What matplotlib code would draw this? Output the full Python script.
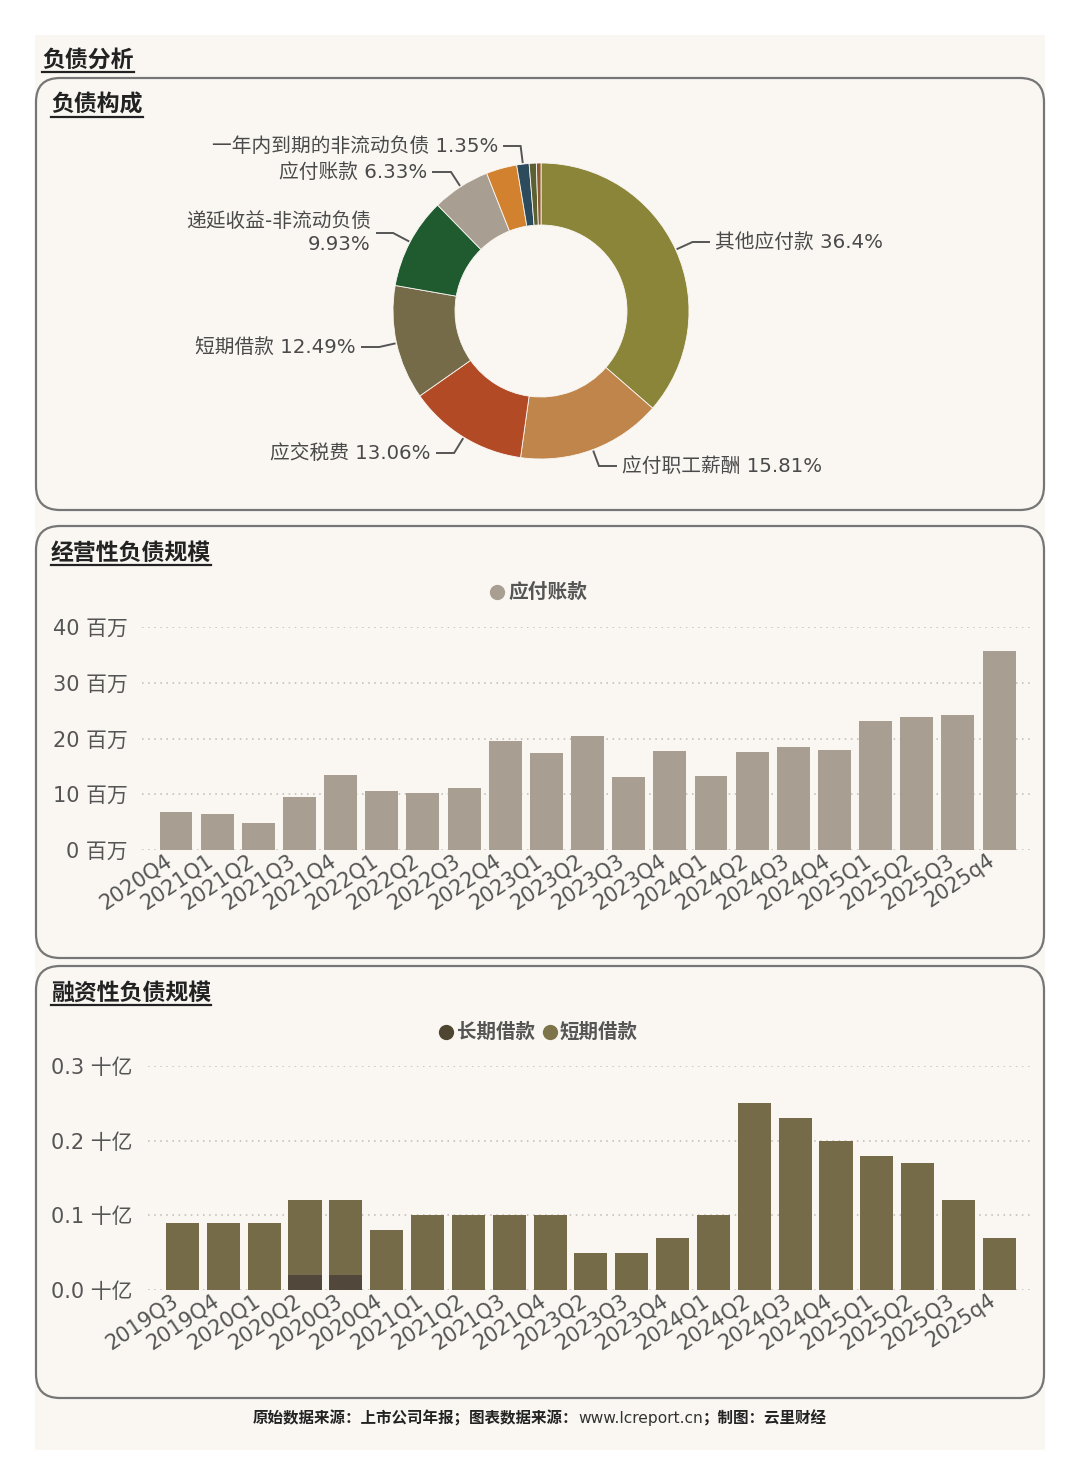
import numpy as np
import matplotlib
matplotlib.use("Agg")
import matplotlib.pyplot as plt
from matplotlib.patches import FancyBboxPatch, Rectangle
import matplotlib.transforms as mtransforms

plt.rcParams['font.family'] = ['DejaVu Sans', 'Noto Sans CJK SC']

# ---------------- data ----------------
pie_names = ['其他应付款', '应付职工薪酬', '应交税费', '短期借款', '递延收益-非流动负债',
             '应付账款', '其他流动负债', '一年内到期的非流动负债', '租赁负债', '长期应付款']
pie_values = [36.4, 15.81, 13.06, 12.49, 9.93, 6.33, 3.35, 1.35, 0.78, 0.50]
pie_colors = ['#8a8538', '#c0854b', '#b24a25', '#756b48', '#1f5b2f',
              '#a89e91', '#d2822f', '#2c4b5c', '#5b6132', '#8b5a32']
pie_show_label = [True, True, True, True, True, True, False, True, False, False]

op_quarters = ['2020Q4', '2021Q1', '2021Q2', '2021Q3', '2021Q4', '2022Q1', '2022Q2',
               '2022Q3', '2022Q4', '2023Q1', '2023Q2', '2023Q3', '2023Q4', '2024Q1',
               '2024Q2', '2024Q3', '2024Q4', '2025Q1', '2025Q2', '2025Q3', '2025q4']
op_payables = [6.87, 6.45, 4.84, 9.43, 13.37, 10.5, 10.15, 11.04, 19.58, 17.37, 20.36,
               13.13, 17.73, 13.25, 17.49, 18.39, 17.85, 23.16, 23.82, 24.18, 35.7]  # 百万

fin_quarters = ['2019Q3', '2019Q4', '2020Q1', '2020Q2', '2020Q3', '2020Q4', '2021Q1',
                '2021Q2', '2021Q3', '2021Q4', '2023Q2', '2023Q3', '2023Q4', '2024Q1',
                '2024Q2', '2024Q3', '2024Q4', '2025Q1', '2025Q2', '2025Q3', '2025q4']
fin_long = [0, 0, 0, 0.02, 0.02, 0, 0, 0, 0, 0, 0, 0, 0, 0, 0, 0, 0, 0, 0, 0, 0]  # 十亿
fin_short = [0.09, 0.09, 0.09, 0.10, 0.10, 0.08, 0.10, 0.10, 0.10, 0.10, 0.05, 0.05,
             0.07, 0.10, 0.25, 0.23, 0.20, 0.18, 0.17, 0.12, 0.07]  # 十亿

# ---------------- layout ----------------
W, H = 1080, 1484
fig = plt.figure(figsize=(W / 100, H / 100), dpi=100, facecolor='white')
BG = '#faf7f3'
TXT = '#555555'

bg = fig.add_axes([0, 0, 1, 1])
bg.set_xlim(0, W)
bg.set_ylim(H, 0)
bg.axis('off')
bg.set_zorder(0)

bg.add_patch(Rectangle((35, 35), 1010, 1415, facecolor=BG, edgecolor='none'))
for (y0, y1) in [(78, 510), (526, 958), (966, 1398)]:
    bg.add_patch(FancyBboxPatch((36, y0), 1008, y1 - y0,
                                boxstyle='round,pad=0,rounding_size=24',
                                facecolor=BG, edgecolor='#767676', linewidth=1.6))


def px_axes(x0, y0, x1, y1):
    a = fig.add_axes([x0 / W, 1 - y1 / H, (x1 - x0) / W, (y1 - y0) / H])
    a.set_facecolor('none')
    a.set_zorder(2)
    return a


titles = []
for (x, y, s) in [(42, 60, '负债分析'), (51, 105, '负债构成'),
                  (51, 553, '经营性负债规模'), (51, 993, '融资性负债规模')]:
    t = bg.text(x, y, s, fontsize=16.5, fontweight='heavy', color='#222222',
                family=['Noto Sans CJK SC'], ha='left', va='center')
    titles.append((t, y))

# ---------------- pie ----------------
cx, cy, R, Rin = 541, 311, 148, 86
pax = px_axes(cx - 160, cy - 160, cx + 160, cy + 160)
pax.pie(pie_values, radius=R, startangle=90, counterclock=False, colors=pie_colors,
        wedgeprops=dict(width=R - Rin, edgecolor=BG, linewidth=0.6))
pax.set_xlim(-160, 160)
pax.set_ylim(-160, 160)
pax.axis('off')

# label anchor positions (layout, pie-centred pixel coords)
label_pos = {0: (174, 69, 'left'), 1: (81, -155, 'left'), 2: (-110, -142, 'right'),
             3: (-185, -36, 'right'), 4: (-170, 78, 'right'), 5: (-114, 139, 'right'),
             7: (-43, 165, 'right')}
vals = np.array(pie_values)
cum = np.cumsum(vals) - vals / 2
for i, show in enumerate(pie_show_label):
    if not show:
        continue
    ang = np.deg2rad(90 - cum[i] / vals.sum() * 360)
    d = np.array([np.cos(ang), np.sin(ang)])
    p0 = (R + 2) * d
    lx, ly, ha = label_pos[i]
    t = (ly - p0[1]) / d[1] if abs(d[1]) > 1e-3 else 14
    p1 = p0 + t * d
    p2x = lx - 6 if ha == 'left' else lx + 6
    pax.plot([p0[0], p1[0], p2x], [p0[1], p1[1], ly], color='#555555', lw=1.4,
             clip_on=False, solid_joinstyle='miter')
    name = pie_names[i]
    pct = f"{pie_values[i]:g}%"
    if i == 4:
        s = f"{name}\n{pct}"
    else:
        s = f"{name} {pct}"
    pax.text(lx, ly, s, ha=ha, va='center', fontsize=14.2, color='#4a4a4a',
             fontweight='medium', multialignment='right', linespacing=1.25,
             clip_on=False)


# ---------------- bar chart helpers ----------------
def style_bar_axes(ax, ylim, ticks, fmt, ylabel_pad):
    ax.set_ylim(*ylim)
    ax.set_yticks(ticks)
    ax.set_yticklabels([fmt(v) for v in ticks])
    for sp in ax.spines.values():
        sp.set_visible(False)
    ax.tick_params(axis='both', length=0, colors=TXT, labelsize=15)
    ax.tick_params(axis='y', pad=ylabel_pad)
    ax.tick_params(axis='x', pad=6, labelsize=15)
    ax.yaxis.grid(True, color='#bdb9b4', linestyle=(0, (1, 3)), linewidth=1.1)
    ax.set_axisbelow(True)
    off = mtransforms.ScaledTranslation(-6 / 100, 0, fig.dpi_scale_trans)
    for lbl in ax.get_xticklabels():
        lbl.set_rotation(34)
        lbl.set_ha('right')
        lbl.set_va('center')
        lbl.set_rotation_mode('anchor')
        lbl.set_transform(lbl.get_transform() + off)


# chart 1
ax1 = px_axes(142, 627, 1032, 850)
x1 = np.arange(len(op_quarters))
ax1.bar(x1, op_payables, width=0.8, color='#a89e91', zorder=3)
ax1.set_xticks(x1)
ax1.set_xticklabels(op_quarters)
ax1.set_xlim(-0.826, len(op_quarters) - 1 + 0.80)
style_bar_axes(ax1, (0, 40), [0, 10, 20, 30, 40], lambda v: f"{int(v)} 百万", 10)

bg.plot([497], [592], 'o', ms=11, color='#a89e91', mec='none')
bg.text(508, 592, '应付账款', fontsize=14.2, fontweight='bold', color=TXT,
        family=['Noto Sans CJK SC'], ha='left', va='center')

# chart 2
ax2 = px_axes(148, 1066, 1032, 1290)
x2 = np.arange(len(fin_quarters))
ax2.bar(x2, fin_long, width=0.81, color='#51473a', zorder=3)
ax2.bar(x2, fin_short, bottom=fin_long, width=0.81, color='#756b48', zorder=3)
ax2.set_xticks(x2)
ax2.set_xticklabels(fin_quarters)
ax2.set_xlim(-0.845, len(fin_quarters) - 1 + 0.80)
style_bar_axes(ax2, (0, 0.3), [0, 0.1, 0.2, 0.3], lambda v: f"{v:.1f} 十亿", 11)

bg.plot([446], [1032], 'o', ms=11, color='#4f4632', mec='none')
bg.text(457, 1032, '长期借款', fontsize=14, fontweight='bold', color=TXT,
        family=['Noto Sans CJK SC'], ha='left', va='center')
bg.plot([550], [1032], 'o', ms=11, color='#7d7549', mec='none')
bg.text(560, 1032, '短期借款', fontsize=14, fontweight='bold', color=TXT,
        family=['Noto Sans CJK SC'], ha='left', va='center')

# footer
f1 = bg.text(253, 1418, '原始数据来源：上市公司年报；图表数据来源：', fontsize=11.2,
             fontweight='bold', color='#222222', family=['Noto Sans CJK SC'],
             ha='left', va='center')
f2 = bg.annotate('www.lcreport.cn', xy=(1, 0.5), xycoords=f1, va='center', ha='left',
                 fontsize=11.2, color='#333333', family=['DejaVu Sans'])
f3 = bg.annotate('；制图：云里财经', xy=(1, 0.5), xycoords=f2, va='center', ha='left',
                 fontsize=11.2, fontweight='bold', color='#222222',
                 family=['Noto Sans CJK SC'])

# underline titles
fig.canvas.draw()
inv = bg.transData.inverted()
for t, y in titles:
    bb = t.get_window_extent()
    (xa, _), (xb, _) = inv.transform([[bb.x0, bb.y0], [bb.x1, bb.y0]])
    bg.plot([xa, xb], [y + 12, y + 12], color='#222222', lw=1.6)

fig.savefig('out.png', dpi=100, facecolor='white')
